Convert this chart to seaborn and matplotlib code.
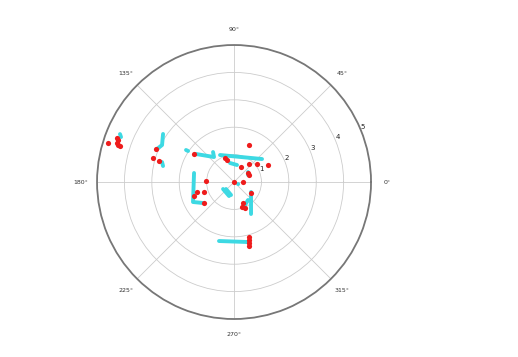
import numpy as np
import pandas as pd
import matplotlib
matplotlib.use("Agg")
import matplotlib.pyplot as plt
import seaborn as sns

# ---- data (theta in degrees, radius) ----
cyan_seg = [1, 1,
            2, 2, 2,
            3, 3,
            4, 4,
            5, 5, 5,
            6, 6,
            7, 7,
            8, 8,
            9, 9, 9,
            10, 10,
            11, 11,
            12, 12,
            13, 13,
            14, 14,
            15, 15]
cyan_theta = [157.2, 158.3,
              145.9, 152.8, 156.8,
              164.5, 167.3,
              146.3, 146.0,
              143.6, 128.7, 125.0,
              117.4, 39.4,
              101.9, 80.0,
              35.5, 26.6,
              167.3, 206.0, 214.1,
              212.5, 250.4,
              221.1, 257.0,
              329.5, 298.0,
              307.9, 295.5,
              255.7, 283.1,
              333.4, 333.4]
cyan_r = [4.515, 4.439,
          3.128, 2.954, 3.057,
          2.727, 2.656,
          2.106, 2.024,
          1.723, 1.168, 1.336,
          1.110, 1.322,
          0.709, 0.630,
          0.628, 0.571,
          1.496, 1.665, 1.366,
          0.475, 0.543,
          0.388, 0.487,
          0.720, 1.322,
          0.832, 0.930,
          2.222, 2.249,
          0.163, 0.170]

red_theta = [162.8, 159.4, 160.1, 161.6, 162.3, 162.5,
             157.1, 163.5, 164.4, 145.0,
             67.9, 110.5, 107.6, 65.0, 50.2, 38.1, 26.6, 32.7, 25.0,
             0.0, 0.0, 178.0, 195.1, 198.4, 214.9, 199.3,
             327.1, 293.2, 287.8, 292.9,
             285.2, 284.5, 283.8, 283.2]
red_r = [4.814, 4.562, 4.503, 4.501, 4.444, 4.364,
         3.09, 3.08, 2.84, 1.782,
         1.457, 0.935, 0.843, 0.604, 0.855, 1.066, 1.387, 0.607, 0.604,
         0.0, 0.328, 1.023, 1.399, 1.154, 1.336, 1.547,
         0.739, 0.834, 0.958, 1.03,
         2.080, 2.186, 2.292, 2.399]

r_ticks = [1, 2, 3, 4, 5]
theta_ticks = [0, 45, 90, 135, 180, 225, 270, 315]
theta_labels = ["0°", "45°", "90°", "135°", "180°", "225°", "270°", "315°"]

CYAN = "#3dd9e3"
RED = "#ee1c1c"

sns.set_style("white")
plt.rcParams["font.family"] = ["DejaVu Sans"]

fig = plt.figure(figsize=(5.18, 3.57), dpi=100)
ax = fig.add_axes([0.1873, 0.1064, 0.529, 0.7675], projection="polar")

cyan_df = pd.DataFrame({"seg": cyan_seg,
                        "theta": np.deg2rad(cyan_theta),
                        "r": cyan_r})
red_df = pd.DataFrame({"theta": np.deg2rad(red_theta), "r": red_r})

sns.lineplot(data=cyan_df, x="theta", y="r", units="seg", estimator=None,
             sort=False, color=CYAN, lw=2.8, solid_capstyle="round",
             ax=ax, legend=False, zorder=3)
sns.scatterplot(data=red_df, x="theta", y="r", color=RED, s=14,
                linewidth=0, ax=ax, legend=False, zorder=4)

ax.set_ylim(0, 5)
ax.set_rticks(r_ticks)
ax.set_rlabel_position(22.5)
ax.set_thetagrids(theta_ticks, theta_labels)
ax.tick_params(axis="x", labelsize=4.5, colors="#333333", pad=1)
ax.tick_params(axis="y", labelsize=5, colors="#222222")
ax.grid(True, color="#cccccc", linewidth=0.6)
ax.spines["polar"].set_color("#777777")
ax.spines["polar"].set_linewidth(1.3)
ax.set_xlabel("")
ax.set_ylabel("")

fig.savefig("out.png", dpi=100, facecolor="white")
